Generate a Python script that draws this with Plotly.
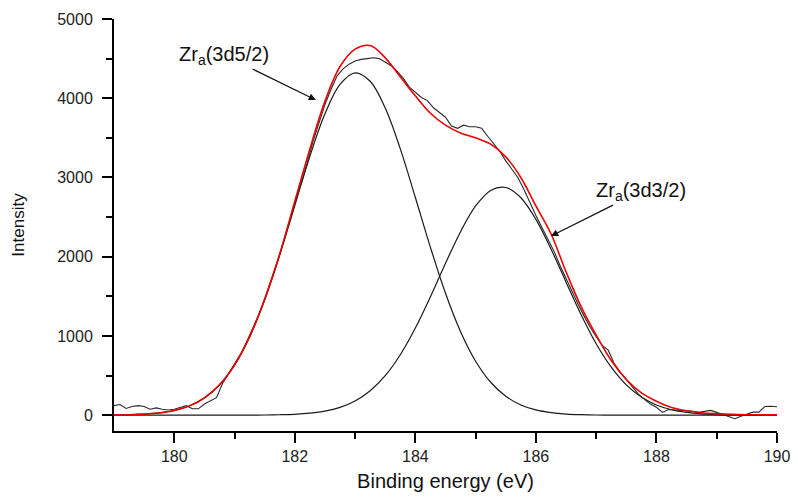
import plotly.graph_objects as go

# ---- data ----
fit_start, fit_step = 179.0, 0.25
peak_5_2 = [2, 5, 13, 28, 59, 116, 217, 381, 632, 987, 1454, 2020, 2646, 3267, 3803,
            4174, 4320, 4214, 3876, 3361, 2747, 2118, 1539, 1054, 681, 415, 238, 129,
            66, 32, 14, 6, 2, 1, 0, 0, 0, 0, 0, 0, 0, 0, 0, 0, 0]
peak_3_2 = [0, 0, 0, 0, 0, 0, 0, 0, 0, 1, 2, 5, 11, 25, 50, 98, 178, 307, 498, 762,
            1099, 1494, 1916, 2316, 2640, 2836, 2873, 2744, 2471, 2098, 1679, 1267,
            901, 605, 382, 228, 128, 68, 34, 16, 7, 3, 1, 0, 0]
envelope = [2, 5, 13, 28, 59, 117, 218, 383, 635, 992, 1462, 2035, 2700, 3360, 3960,
            4400, 4620, 4665, 4510, 4270, 4030, 3810, 3660, 3560, 3500, 3420, 3260,
            3000, 2640, 2290, 1810, 1370, 1010, 690, 450, 280, 175, 97, 55, 30, 18,
            10, 6, 4, 3]

raw_start, raw_step = 179.0, 0.1
raw = [120, 135, 85, 110, 120, 110, 75, 92, 75, 65,
       75, 95, 120, 80, 80, 140, 180, 220, 400, 525,
       645, 770, 925, 1085, 1265, 1470, 1690, 1915, 2160, 2410,
       2670, 2930, 3170, 3450, 3700, 3920, 4110, 4280, 4370, 4430,
       4470, 4490, 4500, 4510, 4500, 4460, 4410, 4340, 4250, 4140,
       4070, 4010, 3970, 3880, 3820, 3760, 3650, 3620, 3660, 3640,
       3640, 3620, 3520, 3420, 3330, 3210, 3110, 3000, 2850, 2680,
       2520, 2370, 2220, 2070, 1890, 1720, 1560, 1400, 1250, 1110,
       990, 880, 820, 650, 540, 450, 350, 265, 200, 140,
       100, 35, 72, 68, 64, 60, 50, 35, 45, 60,
       35, 10, -20, -45, -15, 10, 38, 38, 110, 112,
       106]

x_ticks = [180, 182, 184, 186, 188, 190]
y_ticks = [0, 1000, 2000, 3000, 4000, 5000]

fit_x = [round(fit_start + fit_step * i, 3) for i in range(len(envelope))]
raw_x = [round(raw_start + raw_step * i, 3) for i in range(len(raw))]

FONT = "Liberation Sans, Arial, sans-serif"

fig = go.Figure()
fig.add_trace(go.Scatter(x=fit_x, y=peak_5_2, mode="lines",
                         line=dict(color="#1a1a1a", width=1.2, shape="spline"),
                         showlegend=False, hoverinfo="skip"))
fig.add_trace(go.Scatter(x=fit_x, y=peak_3_2, mode="lines",
                         line=dict(color="#1a1a1a", width=1.2, shape="spline"),
                         showlegend=False, hoverinfo="skip"))
fig.add_trace(go.Scatter(x=raw_x, y=raw, mode="lines",
                         line=dict(color="#2a2a2a", width=1.1),
                         showlegend=False, hoverinfo="skip"))
fig.add_trace(go.Scatter(x=fit_x, y=envelope, mode="lines",
                         line=dict(color="#ee0000", width=1.6, shape="spline"),
                         showlegend=False, hoverinfo="skip"))

fig.add_annotation(x=182.35, y=3977, text="Zr<sub>a</sub>(3d5/2)", showarrow=True,
                   ax=-92, ay=-45, arrowhead=2, arrowsize=1.2, arrowwidth=1.2,
                   arrowcolor="#111", font=dict(family=FONT, size=20, color="#111"))
fig.add_annotation(x=186.25, y=2260, text="Zr<sub>a</sub>(3d3/2)", showarrow=True,
                   ax=90, ay=-45, arrowhead=2, arrowsize=1.2, arrowwidth=1.2,
                   arrowcolor="#111", font=dict(family=FONT, size=20, color="#111"))

# page body has an 8px margin, so the figure is sized to fit the window
fig.update_layout(
    width=790, height=490,
    margin=dict(l=106, r=21, t=11, b=67),
    paper_bgcolor="white", plot_bgcolor="white",
    font=dict(family=FONT, color="#111"),
)
fig.update_xaxes(
    range=[179, 190], tickvals=x_ticks, ticktext=[str(v) for v in x_ticks],
    automargin=False,
    showline=True, linecolor="black", linewidth=2, showgrid=False, zeroline=False,
    ticks="outside", ticklen=10, tickwidth=2, tickcolor="black",
    minor=dict(tickvals=[181, 183, 185, 187, 189], ticks="outside", ticklen=6,
               tickwidth=2, tickcolor="black", showgrid=False),
    tickfont=dict(family=FONT, size=16, color="#222"),
    title=dict(text="Binding energy (eV)", font=dict(family=FONT, size=20, color="#111"),
               standoff=10),
)
fig.update_yaxes(
    range=[-200, 5000], tickvals=y_ticks, ticktext=[str(v) for v in y_ticks],
    automargin=False, ticklabelstandoff=6,
    showline=True, linecolor="black", linewidth=2, showgrid=False, zeroline=False,
    ticks="outside", ticklen=10, tickwidth=2, tickcolor="black",
    minor=dict(tickvals=[500, 1500, 2500, 3500, 4500], ticks="outside", ticklen=6,
               tickwidth=2, tickcolor="black", showgrid=False),
    tickfont=dict(family=FONT, size=16, color="#222"),
    title=dict(text="Intensity", font=dict(family=FONT, size=17, color="#111"),
               standoff=28),
)

fig.write_html("out.html")
